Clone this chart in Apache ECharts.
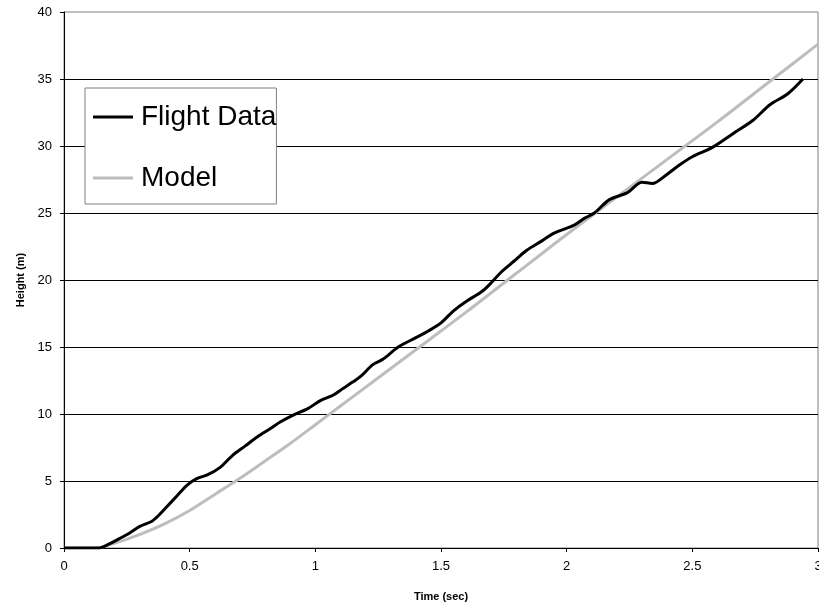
<!DOCTYPE html>
<html>
<head>
<meta charset="utf-8">
<script src="https://cdn.jsdelivr.net/npm/echarts@6/dist/echarts.min.js"></script>
<style>
  html, body { margin: 0; padding: 0; background: #fff; }
  #chart { width: 819px; height: 607px; }
</style>
</head>
<body>
<div id="chart"></div>
<script>
// flight data
const flightTime = [0, 0.05, 0.1, 0.14, 0.18, 0.22, 0.26, 0.3, 0.35, 0.38, 0.41, 0.45, 0.49, 0.53, 0.57,
  0.62, 0.67, 0.72, 0.77, 0.82, 0.86, 0.91, 0.97, 1.02, 1.07, 1.11, 1.15, 1.18, 1.23, 1.27, 1.33,
  1.4, 1.45, 1.5, 1.55, 1.6, 1.66, 1.69, 1.74, 1.79, 1.84, 1.9, 1.95, 2.03, 2.07, 2.11, 2.17, 2.24,
  2.3, 2.34, 2.4, 2.45, 2.5, 2.58, 2.66, 2.74, 2.81, 2.88, 2.94];
const flightHeight = [0, 0, 0, 0, 0.3, 0.7, 1.1, 1.6, 2.0, 2.5, 3.1, 3.9, 4.7, 5.2, 5.45,
  6.0, 6.9, 7.6, 8.3, 8.9, 9.4, 9.9, 10.4, 11.0, 11.4, 11.9, 12.4, 12.8, 13.7, 14.1, 15.0,
  15.7, 16.2, 16.8, 17.7, 18.4, 19.1, 19.6, 20.6, 21.4, 22.2, 22.9, 23.5, 24.1, 24.6, 25.0, 26.0, 26.5,
  27.3, 27.2, 27.9, 28.6, 29.2, 29.9, 30.9, 31.9, 33.1, 33.9, 35.0];

// model curve
const modelTime = [0, 0.13, 0.2, 0.3, 0.4, 0.5, 0.6, 0.7, 0.8, 0.9, 1.0, 1.1, 1.2, 1.4, 1.6, 1.8,
  2.0, 2.2, 2.4, 2.6, 2.8, 3.0];
const modelHeight = [0, 0, 0.35, 1.0, 1.8, 2.8, 4.0, 5.2, 6.5, 7.8, 9.2, 10.6, 12.0, 14.8, 17.6, 20.5,
  23.4, 26.2, 29.0, 31.8, 34.7, 37.6];

const zip = (xs, ys) => xs.map((x, i) => [x, ys[i]]);
const font = "'Liberation Sans', Arial, sans-serif";

const chart = echarts.init(document.getElementById("chart"));
chart.setOption({
  animation: false,
  textStyle: { fontFamily: font, color: "#000" },
  grid: {
    left: 64, right: 1, top: 12, bottom: 59,
    outerBoundsMode: "none",
    containLabel: false,
    show: true, borderColor: "#808080", borderWidth: 1,
  },
  legend: {
    orient: "vertical",
    left: 85, top: 88,
    padding: [13, 0, 10, 8],
    itemGap: 29,
    itemWidth: 40, itemHeight: 3,
    icon: "rect",
    backgroundColor: "#fff",
    borderColor: "#808080", borderWidth: 1,
    textStyle: { fontFamily: font, fontSize: 28, color: "#000", lineHeight: 32, padding: [0, 0, 0, 3] },
    data: ["Flight Data", "Model"],
  },
  xAxis: {
    type: "value",
    min: 0, max: 3, interval: 0.5,
    name: "Time (sec)",
    nameLocation: "middle",
    nameGap: 43,
    nameTextStyle: { fontFamily: font, fontSize: 11, fontWeight: "bold", color: "#000" },
    axisLine: { show: true, lineStyle: { color: "#000", width: 1 } },
    axisTick: { show: true, length: 4, lineStyle: { color: "#000" } },
    axisLabel: { fontFamily: font, fontSize: 13, color: "#000", margin: 12, hideOverlap: false },
    splitLine: { show: false },
  },
  yAxis: {
    type: "value",
    min: 0, max: 40, interval: 5,
    name: "Height (m)",
    nameLocation: "middle",
    nameGap: 36,
    nameTextStyle: { fontFamily: font, fontSize: 11, fontWeight: "bold", color: "#000" },
    axisLine: { show: true, lineStyle: { color: "#000", width: 1 } },
    axisTick: { show: true, length: 4, lineStyle: { color: "#000" } },
    axisLabel: { fontFamily: font, fontSize: 13, color: "#000", margin: 12 },
    splitLine: { show: true, showMaxLine: false, lineStyle: { color: "#000", width: 1 } },
  },
  series: [
    {
      name: "Model",
      type: "line",
      data: zip(modelTime, modelHeight),
      symbol: "none",
      smooth: 0.3,
      lineStyle: { color: "#bdbdbd", width: 3 },
      itemStyle: { color: "#bdbdbd" },
      z: 2,
    },
    {
      name: "Flight Data",
      type: "line",
      data: zip(flightTime, flightHeight),
      symbol: "none",
      smooth: 0.3,
      lineStyle: { color: "#000", width: 3 },
      itemStyle: { color: "#000" },
      z: 3,
    },
  ],
});
</script>
</body>
</html>
